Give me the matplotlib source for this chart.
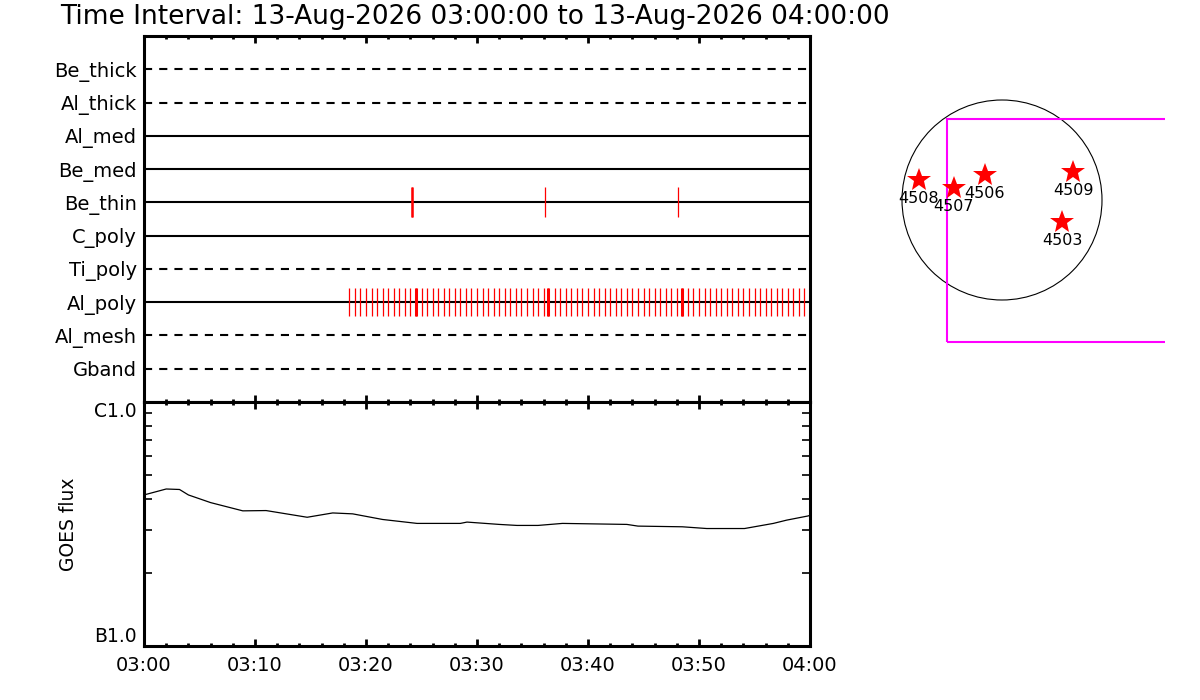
import matplotlib
matplotlib.use("Agg")
import matplotlib.pyplot as plt
from matplotlib.patches import Circle, Rectangle

# channel rows, top to bottom
channels = ["Be_thick", "Al_thick", "Al_med", "Be_med", "Be_thin",
            "C_poly", "Ti_poly", "Al_poly", "Al_mesh", "Gband"]
dashed = ["Be_thick", "Al_thick", "Ti_poly", "Al_mesh", "Gband"]

# exposure times (minutes after 03:00)
be_thin_times = [24.1, 36.1, 48.1]
be_thin_bold = [24.1]
al_poly_times = [18.5, 19.0, 19.5, 20.0, 20.5, 21.0, 21.5, 22.0, 22.5, 23.0,
                 23.5, 24.0, 24.5, 25.0, 25.5, 26.0, 26.5, 27.0, 27.5, 28.0,
                 28.5, 29.0, 29.5, 30.0, 30.5, 31.0, 31.5, 32.0, 32.5, 33.0,
                 33.5, 34.0, 34.5, 35.0, 35.5, 36.0, 36.4, 37.0, 37.5, 38.0,
                 38.5, 39.0, 39.5, 40.0, 40.5, 41.0, 41.5, 42.0, 42.5, 43.0,
                 43.5, 44.0, 44.5, 45.0, 45.5, 46.0, 46.5, 47.0, 47.5, 48.0,
                 48.5, 49.0, 49.5, 50.0, 50.5, 51.0, 51.5, 52.0, 52.5, 53.0,
                 53.5, 54.0, 54.5, 55.0, 55.5, 56.0, 56.5, 57.0, 57.5, 58.0,
                 58.5, 59.0, 59.5]
al_poly_bold = [24.5, 36.4, 48.5]

# GOES flux (W/m^2)
goes_t = [0.0, 2.0, 3.2, 4.0, 6.0, 8.9, 11.0, 14.7, 17.0, 18.8, 21.5, 24.6,
          28.5, 29.1, 32.0, 33.6, 35.5, 37.7, 43.5, 44.5, 48.5, 50.7, 54.1,
          56.7, 57.9, 59.8, 60.0]
goes_flux = [4.16e-7, 4.40e-7, 4.38e-7, 4.16e-7, 3.87e-7, 3.58e-7, 3.59e-7,
             3.37e-7, 3.51e-7, 3.48e-7, 3.30e-7, 3.18e-7, 3.18e-7, 3.22e-7,
             3.15e-7, 3.12e-7, 3.12e-7, 3.18e-7, 3.15e-7, 3.10e-7, 3.08e-7,
             3.03e-7, 3.03e-7, 3.18e-7, 3.28e-7, 3.41e-7, 3.43e-7]

time_ticks = [0, 10, 20, 30, 40, 50, 60]
time_labels = ["03:00", "03:10", "03:20", "03:30", "03:40", "03:50", "04:00"]

# active regions (arcsec)
ar_names = ["4508", "4507", "4506", "4509", "4503"]
ar_x = [-789, -456, -162, 675, 570]
ar_y = [190, 114, 237, 266, -209]
sun_r = 950
fov_x, fov_y, fov_w, fov_h = -522, -1350, 2600, 2120

plt.rcParams["font.family"] = "DejaVu Sans"
fig = plt.figure(figsize=(12, 7), dpi=100)

fig.text(60 / 1200, 1 - 24 / 700,
         "Time Interval: 13-Aug-2026 03:00:00 to 13-Aug-2026 04:00:00",
         fontsize=19, va="baseline", ha="left")

# top panel: channels
ax1 = fig.add_axes([144 / 1200, 1 - 402 / 700, 666 / 1200, 366 / 700])
n = len(channels)
for i, ch in enumerate(channels):
    y = n - i
    ls = (0, (3.9, 3.4)) if ch in dashed else "-"
    ax1.plot([0, 60], [y, y], color="black", lw=1.5, ls=ls)

row = dict(zip(channels, range(n, 0, -1)))
ax1.vlines(be_thin_times, row["Be_thin"] - 0.45, row["Be_thin"] + 0.45,
           color="red", lw=0.9)
ax1.vlines(be_thin_bold, row["Be_thin"] - 0.45, row["Be_thin"] + 0.45,
           color="red", lw=1.8)
ax1.vlines(al_poly_times, row["Al_poly"] - 0.43, row["Al_poly"] + 0.43,
           color="red", lw=0.9)
ax1.vlines(al_poly_bold, row["Al_poly"] - 0.43, row["Al_poly"] + 0.43,
           color="red", lw=2.2)

ax1.set_xlim(0, 60)
ax1.set_ylim(0, n + 1)
ax1.set_yticks(range(n, 0, -1))
ax1.set_yticklabels(channels, fontsize=14)
ax1.tick_params(axis="y", length=0, pad=5)
ax1.set_xticks(time_ticks)
ax1.set_xticks([m for m in range(0, 61, 2)], minor=True)
ax1.tick_params(axis="x", which="both", direction="in", top=True, bottom=True,
                labelbottom=False, width=2)
ax1.tick_params(axis="x", which="major", length=5)
ax1.tick_params(axis="x", which="minor", length=2.5)
for s in ax1.spines.values():
    s.set_linewidth(2.2)

# bottom panel: GOES flux
ax2 = fig.add_axes([144 / 1200, 1 - 646 / 700, 666 / 1200, 244 / 700])
ax2.plot(goes_t, goes_flux, color="black", lw=0.9)
ax2.set_yscale("log")
ax2.set_xlim(0, 60)
ax2.set_ylim(1e-7, 1e-6)
ax2.set_yticks([1e-7, 1e-6])
ax2.set_yticklabels(["B1.0", "C1.0"], fontsize=13.5)
lab_b, lab_c = ax2.get_yticklabels()
lab_b.set_va("bottom")
lab_c.set_va("top")
ax2.set_yticks([k * 1e-7 for k in range(2, 10)], minor=True)
ax2.yaxis.set_minor_formatter(plt.NullFormatter())
ax2.tick_params(axis="y", which="both", direction="in", left=True, right=True,
                width=1.2, pad=5)
ax2.tick_params(axis="y", which="major", length=0)
ax2.tick_params(axis="y", which="minor", length=6)
ax2.set_xticks(time_ticks)
ax2.set_xticklabels(time_labels, fontsize=14)
ax2.set_xticks([m for m in range(0, 61, 2)], minor=True)
ax2.tick_params(axis="x", which="both", direction="in", top=True, bottom=True,
                width=2, pad=7)
ax2.tick_params(axis="x", which="major", length=5)
ax2.tick_params(axis="x", which="minor", length=2.5)
ax2.set_ylabel("GOES flux", fontsize=13.5, labelpad=12)
for s in ax2.spines.values():
    s.set_linewidth(2.2)

# right panel: solar disk
ax3 = fig.add_axes([880 / 1200, 1 - 360 / 700, 285 / 1200, 300 / 700])
ax3.set_xlim(-1159, 1548.5)
ax3.set_ylim(-1520, 1330)
ax3.axis("off")
ax3.add_patch(Circle((0, 0), sun_r, fill=False, color="black", lw=0.8))
ax3.add_patch(Rectangle((fov_x, fov_y), fov_w, fov_h, fill=False,
                        edgecolor="magenta", lw=1.5, clip_on=True))
ax3.plot(ar_x, ar_y, ls="none", marker="*", color="red", markersize=18,
         markeredgewidth=0)
for name, x, y in zip(ar_names, ar_x, ar_y):
    ax3.text(x, y - 180, name, fontsize=11.5, ha="center", va="center")

fig.savefig("out.png", dpi=100)
